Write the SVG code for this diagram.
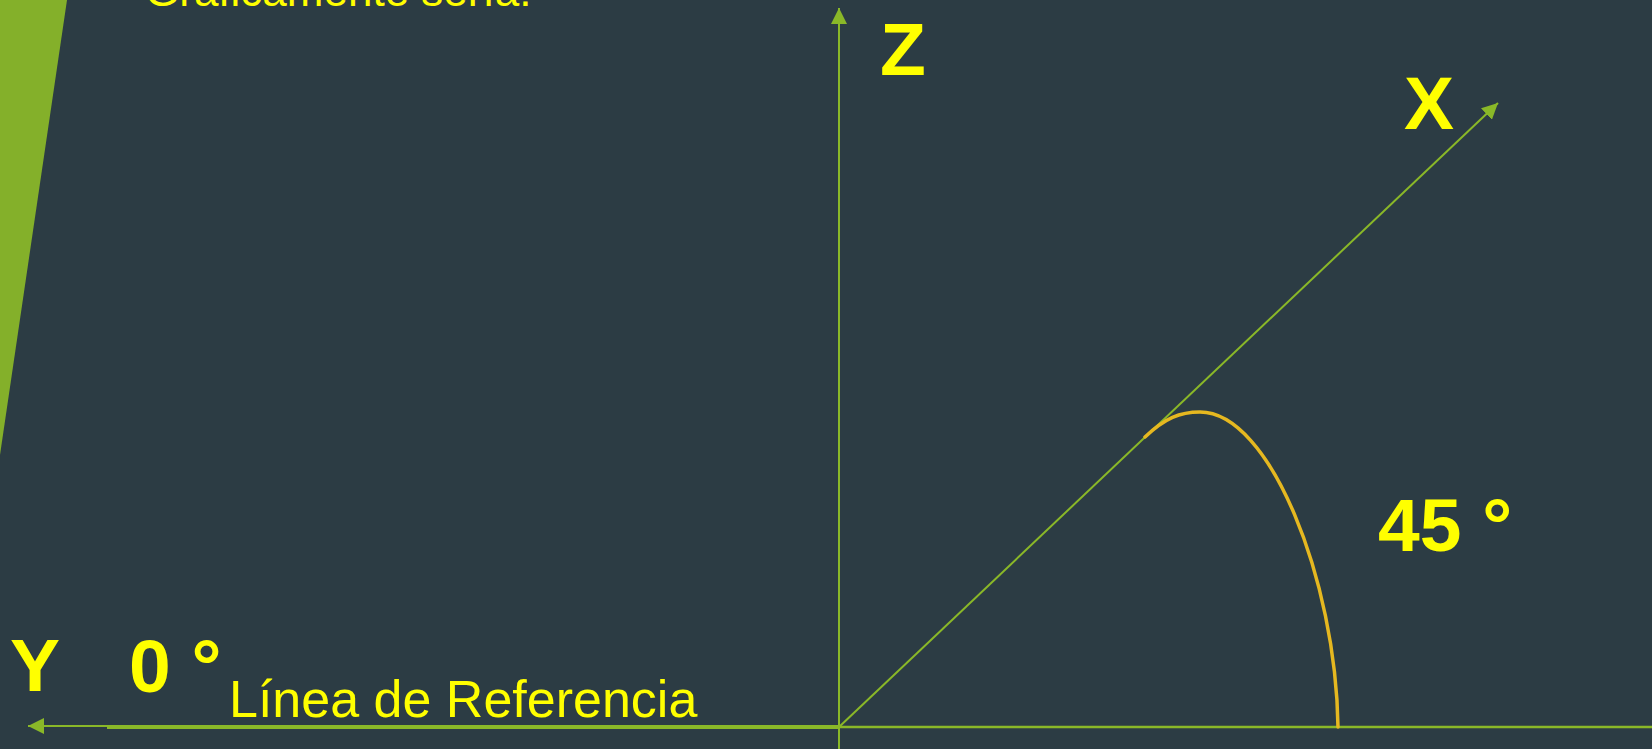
<svg xmlns="http://www.w3.org/2000/svg" width="1652" height="749" viewBox="0 0 1652 749">
<defs>
<style>
.bg{fill:#2c3c44}
.accent{fill:#84b02a}
.axis{stroke:#8ab828;fill:none}
.lbl{font-family:"Liberation Sans",Arial,sans-serif;font-weight:bold;font-size:75px;fill:#ffff00}
.txt{font-family:"Liberation Sans",Arial,sans-serif;fill:#ffff00}
.arc{stroke:#e6b820;stroke-width:3.5;fill:none;stroke-linecap:round}
</style>
<marker id="arr" viewBox="0 0 10 10" refX="9" refY="5" markerWidth="8" markerHeight="8" markerUnits="userSpaceOnUse" orient="auto">
<path d="M0,0 L10,5 L0,10 z" fill="#8ab828"/>
</marker>
<marker id="arrL" viewBox="0 0 16 16" refX="16" refY="8" markerWidth="16" markerHeight="16" markerUnits="userSpaceOnUse" orient="auto">
<path d="M0,0 L16,8 L0,16 z" fill="#8ab828"/>
</marker>
</defs>
<rect class="bg" x="0" y="0" width="1652" height="749"/>
<polygon class="accent" points="0,0 67,0 0,455"/>
<text class="txt" x="145" y="6" font-size="44">Gráficamente sería:</text>
<g id="connectors">
<line class="axis" stroke-width="2" x1="839" y1="749" x2="839" y2="8" marker-end="url(#arrL)"/>
<line class="axis" stroke-width="2" x1="839" y1="727" x2="1498" y2="103" marker-end="url(#arrL)"/>
<line class="axis" stroke-width="2.5" x1="839" y1="727" x2="1652" y2="727"/>
<line class="axis" stroke-width="4" x1="839" y1="727" x2="107" y2="727"/>
<line class="axis" stroke-width="2" x1="107" y1="726" x2="28" y2="726" marker-end="url(#arrL)"/>
<path class="arc" d="M1145,437 C1165,418 1180,412 1200,412 C1270,412 1336,580 1338,727"/>
</g>
<g id="label-z"><text class="lbl" x="880" y="75">Z</text></g>
<g id="label-x"><text class="lbl" x="1404" y="129">X</text></g>
<g id="label-y"><text class="lbl" x="10" y="691">Y</text></g>
<g id="label-0"><text class="lbl" x="129" y="692">0 °</text></g>
<g id="label-45"><text class="lbl" x="1378" y="551">45 °</text></g>
<g id="label-ref"><text class="txt" x="229" y="717" font-size="52">Línea de Referencia</text></g>
</svg>
